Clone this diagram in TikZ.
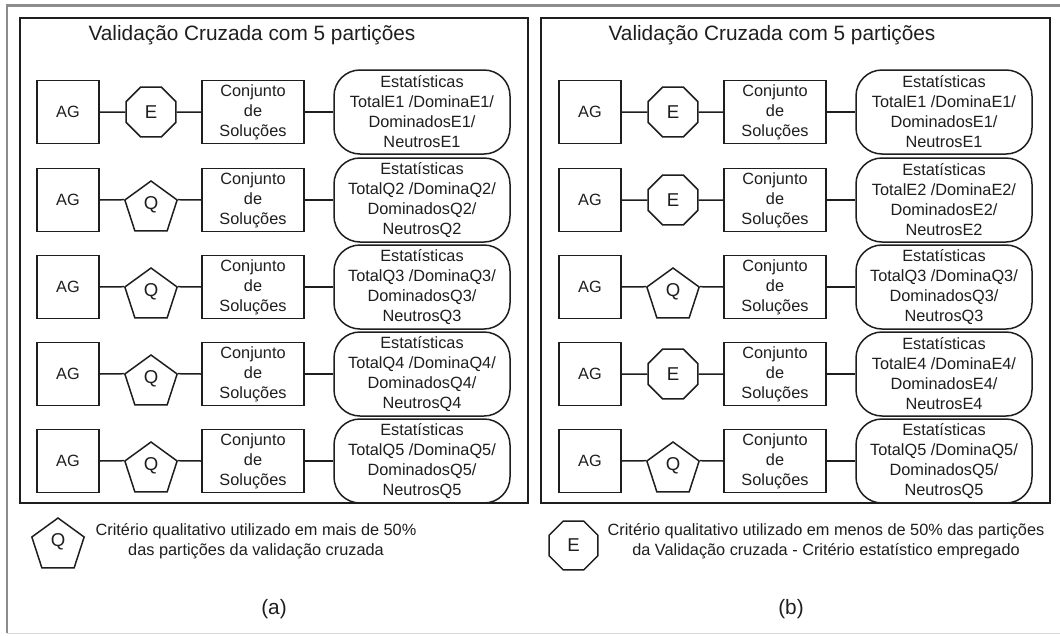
\documentclass[tikz,border=0pt]{standalone}
\usepackage{fontspec}
\setmainfont{Liberation Sans}
\usetikzlibrary{shapes.geometric}
\definecolor{tinta}{HTML}{1E1E1E}
\definecolor{moldura}{HTML}{8C8C8C}

\tikzset{
  base/.style={draw=tinta, text=tinta, line width=1.5pt, inner sep=0pt,
    font=\fontsize{16.3}{20}\selectfont, align=center},
  agbox/.style={base, rectangle, minimum width=62pt, minimum height=63pt},
  conjbox/.style={base, rectangle, minimum width=102pt, minimum height=63pt},
  statbox/.style={base, rectangle, rounded corners=26pt, minimum width=176pt, minimum height=84pt},
  octo/.style={base, regular polygon, regular polygon sides=8, minimum size=54pt,
    font=\fontsize{18.6}{20}\selectfont},
  penta/.style={base, regular polygon, regular polygon sides=5, minimum size=55pt,
    label={[text=tinta, font=\fontsize{18.6}{20}\selectfont, yshift=4pt]center:#1}},
  liga/.style={draw=tinta, line width=1.5pt},
  quadro/.style={draw=tinta, line width=1.8pt},
  titulo/.style={text=tinta, font=\fontsize{20.8}{24}\selectfont},
  legenda/.style={text=tinta, font=\fontsize{16.3}{20}\selectfont, align=center},
}

% one row of a panel: #1 panel, #2 x offset, #3 row, #4 y, #5 criterion (E or Q), #6 tag
\newcommand\fila[6]{%
  \node[agbox] (#1ag#3) at (#2+68,#4) {AG};
  \if#5E
    \node[octo] (#1cr#3) at (#2+151,#4) {E};
    \coordinate (#1ci#3) at (#1cr#3.west);
    \coordinate (#1co#3) at (#1cr#3.east);
  \else
    \node[penta=Q] (#1cr#3) at (#2+151,#4+8.5) {};
    \coordinate (#1ci#3) at (#1cr#3.corner 2);
    \coordinate (#1co#3) at (#1cr#3.corner 5);
  \fi
  \node[conjbox] (#1cj#3) at (#2+253,#4) {Conjunto\\de\\Soluções};
  \node[statbox] (#1st#3) at (#2+422,#4) {Estatísticas\\Total#6 /Domina#6/\\Dominados#6/\\Neutros#6};
  \draw[liga] (#1ag#3.east) -- (#1ci#3);
  \draw[liga] (#1co#3) -- (#1cj#3.west);
  \draw[liga] (#1cj#3.east) -- (#1st#3.west);
}

\begin{document}
\begin{tikzpicture}[x=1pt,y=-1pt]
  \useasboundingbox (0,0) rectangle (1060,635);
  \fill[white] (0,0) rectangle (1060,635);

  % outer page border
  \draw[moldura, line width=2.5pt] (6,5.5) -- (1060,5.5);
  \draw[moldura, line width=2pt] (7,4.5) -- (7,633);
  \draw[black!15, line width=1.5pt] (7,633.5) -- (1060,633.5);

  % panel frames
  \draw[quadro] (20,18) rectangle (528,503);
  \draw[quadro] (541,18) rectangle (1050,503);

  % titles
  \node[titulo] (ta) at (252,35) {Validação Cruzada com 5 partições};
  \node[titulo] (tb) at (772,35) {Validação Cruzada com 5 partições};

  % panel (a)
  \fila{a}{0}{1}{112}{E}{E1}
  \fila{a}{0}{2}{200}{Q}{Q2}
  \fila{a}{0}{3}{287}{Q}{Q3}
  \fila{a}{0}{4}{374}{Q}{Q4}
  \fila{a}{0}{5}{461}{Q}{Q5}

  % panel (b)
  \fila{b}{522}{1}{112}{E}{E1}
  \fila{b}{522}{2}{200}{E}{E2}
  \fila{b}{522}{3}{287}{Q}{Q3}
  \fila{b}{522}{4}{374}{E}{E4}
  \fila{b}{522}{5}{461}{Q}{Q5}

  % legends
  \node[penta=Q] (lq) at (58,545.5) {};
  \node[legenda] (lqt) at (256,541) {Critério qualitativo utilizado em mais de 50\%\\das partições da validação cruzada};
  \node[octo, minimum size=53pt] (le) at (573.5,545.5) {E};
  \node[legenda] (let) at (826,541) {Critério qualitativo utilizado em menos de 50\% das partições\\da Validação cruzada - Critério estatístico empregado};

  % captions
  \node[titulo] (ca) at (274,609) {(a)};
  \node[titulo] (cb) at (791,609) {(b)};
\end{tikzpicture}
\end{document}
